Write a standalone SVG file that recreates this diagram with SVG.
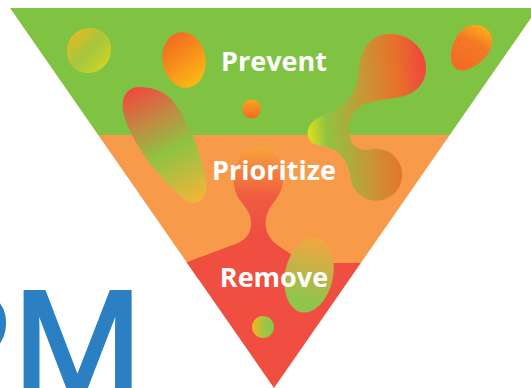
<svg xmlns="http://www.w3.org/2000/svg" width="531" height="388" viewBox="0 0 531 388">
  <defs>
    <style>
      .label { font-family: "Open Sans", "Noto Sans", "Liberation Sans", sans-serif; font-weight: 700; font-size: 27px; fill: #ffffff; text-anchor: middle; }
      .brand { font-family: "Open Sans", "Noto Sans", "Liberation Sans", sans-serif; font-weight: 400; font-size: 147px; fill: #2B7FC3; stroke: #2B7FC3; stroke-width: 4.5; stroke-linejoin: miter; }
    </style>
    <clipPath id="funnel">
      <polygon points="10,8 538,8 274,388"/>
    </clipPath>
    <linearGradient id="gA" x1="0" y1="0" x2="1" y2="1">
      <stop offset="0" stop-color="#F4B81B"/>
      <stop offset="0.5" stop-color="#A6C63E"/>
      <stop offset="1" stop-color="#D8DC1C"/>
    </linearGradient>
    <linearGradient id="gB" x1="0.3" y1="0" x2="0.7" y2="1">
      <stop offset="0" stop-color="#F26722"/>
      <stop offset="1" stop-color="#FCBB15"/>
    </linearGradient>
    <linearGradient id="gC" gradientUnits="userSpaceOnUse" x1="135" y1="88" x2="195" y2="204">
      <stop offset="0" stop-color="#EF4A3E"/>
      <stop offset="0.3" stop-color="#BE8E43"/>
      <stop offset="0.55" stop-color="#8DC342"/>
      <stop offset="1" stop-color="#F5B43A"/>
    </linearGradient>
    <linearGradient id="gD" gradientUnits="userSpaceOnUse" x1="308" y1="120" x2="426" y2="110">
      <stop offset="0" stop-color="#D8DF1E"/>
      <stop offset="0.15" stop-color="#8FC342"/>
      <stop offset="0.5" stop-color="#C99536"/>
      <stop offset="0.78" stop-color="#E8712A"/>
      <stop offset="1" stop-color="#EE4A3D"/>
    </linearGradient>
    <linearGradient id="gE" x1="0" y1="0" x2="0" y2="1">
      <stop offset="0" stop-color="#F4A63F"/>
      <stop offset="0.5" stop-color="#BCB44A"/>
      <stop offset="0.85" stop-color="#8EC64B"/>
    </linearGradient>
    <linearGradient id="gF" gradientUnits="userSpaceOnUse" x1="0" y1="147" x2="0" y2="240">
      <stop offset="0" stop-color="#F6A43C"/>
      <stop offset="0.55" stop-color="#EF5A40"/>
      <stop offset="1" stop-color="#EF4E40"/>
    </linearGradient>
    <linearGradient id="gG" x1="0" y1="0" x2="1" y2="0">
      <stop offset="0" stop-color="#F4B41C"/>
      <stop offset="0.6" stop-color="#9CC645"/>
      <stop offset="1" stop-color="#8CC54B"/>
    </linearGradient>
    <linearGradient id="gH" x1="0" y1="0" x2="0" y2="1">
      <stop offset="0" stop-color="#F9A51E"/>
      <stop offset="1" stop-color="#F26A24"/>
    </linearGradient>
    <linearGradient id="gI" x1="0.8" y1="0" x2="0.3" y2="1">
      <stop offset="0" stop-color="#FBB417"/>
      <stop offset="0.4" stop-color="#F47A24"/>
      <stop offset="1" stop-color="#F26A24"/>
    </linearGradient>
  </defs>

  <!-- funnel bands -->
  <g id="funnel-bands" clip-path="url(#funnel)">
    <rect x="0" y="0" width="531" height="135" fill="#80C241"/>
    <rect x="0" y="135" width="531" height="128" fill="#F79B4B"/>
    <rect x="0" y="263" width="531" height="130" fill="#EF4E40"/>
  </g>

  <!-- decorative blobs -->
  <g id="blobs" clip-path="url(#funnel)">
    <path id="blob-a" d="M 90 28 C 104 28 112 38 111 51 C 110 64 100 73 88 73 C 75 73 67 64 67 51 C 67 38 77 28 90 28 Z" fill="url(#gA)"/>
    <ellipse id="blob-b" cx="184" cy="60" rx="21.5" ry="28" transform="rotate(-10 184 60)" fill="url(#gB)"/>
    <path id="blob-c" d="M 140 87 C 125 87 120 100 124 115 C 130 140 160 180 185 200 C 195 208 210 200 206 180 C 200 150 188 120 172 100 C 163 90 150 87 140 87 Z" fill="url(#gC)"/>
    <circle id="blob-h" cx="251.5" cy="109" r="9.5" fill="url(#gH)"/>
    <path id="blob-i" d="M 474 25 C 486 25 494 33 492 44 C 490 56 478 66 466 70 C 455 73 450 64 451 54 C 452 40 462 25 474 25 Z" fill="url(#gI)"/>
    <path id="blob-d" d="M 390 34 C 410 34 426 49 426 68 C 426 84 415 94 400 97 C 385 100 368 100 358 108 C 349 116 347 128 350 138 C 352 146 358 150 368 150 A 26 26 0 1 1 351 181 C 350 166 343 153 330 148 C 320 145 310 146 308 136 C 306 124 316 118 328 113 C 342 107 352 99 356 86 C 360 74 358 62 364 50 C 369 40 378 34 390 34 Z" fill="url(#gD)"/>
    <path id="blob-f" d="M 258 147 C 273 147 284 160 283 180 C 282 196 272 202 268 212 C 263 224 266 236 276 244 C 284 250 292 254 300 262 L 300 280 L 180 280 L 182 264 L 238 243 C 250 238 253 226 250 216 C 247 206 236 200 234 186 C 232 164 243 147 258 147 Z" fill="url(#gF)"/>
    <ellipse id="blob-e" cx="309" cy="275" rx="24" ry="38" transform="rotate(12 309 275)" fill="url(#gE)"/>
    <circle id="blob-g" cx="263" cy="327" r="11" fill="url(#gG)"/>
  </g>

  <!-- stage labels -->
  <g id="stage-prevent"><text class="label" x="274" y="71">Prevent</text></g>
  <g id="stage-prioritize"><text class="label" x="274" y="180">Prioritize</text></g>
  <g id="stage-remove"><text class="label" x="274" y="287">Remove</text></g>

  <!-- wordmark -->
  <g id="wordmark"><text class="brand" x="-77" y="397">PM</text></g>
</svg>
